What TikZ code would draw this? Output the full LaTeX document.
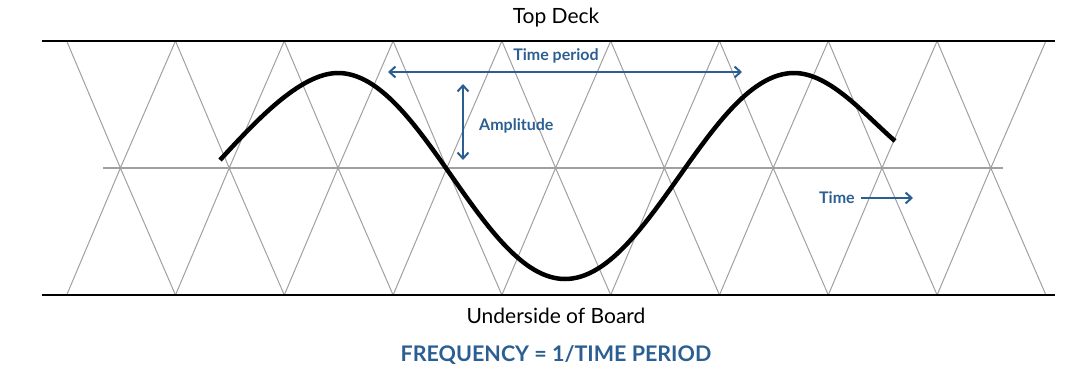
\documentclass[tikz,border=0pt]{standalone}
\usepackage{fontspec}
\setmainfont{Lato}
\usetikzlibrary{arrows.meta,positioning}
\definecolor{waveblue}{RGB}{44,95,145}
\definecolor{latgray}{RGB}{160,160,160}
\tikzset{
deck/.style={draw=black,line width=1.4pt},
lattice/.style={draw=latgray,line width=1pt},
wave/.style={draw=black,line width=4.5pt,line cap=butt},
caption/.style={font=\fontsize{21}{24}\selectfont,text=black,inner sep=0pt},
bluelabel/.style={font=\bfseries\fontsize{16}{18}\selectfont,text=waveblue,inner sep=0pt},
formula/.style={font=\bfseries\fontsize{21.5}{24}\selectfont,text=waveblue,inner sep=0pt},
measure/.style={{Straight Barb[length=6pt,width=11pt,line width=2pt]}-{Straight Barb[length=6pt,width=11pt,line width=2pt]},draw=waveblue,line width=2pt},
timeflow/.style={-{Straight Barb[length=6pt,width=11pt,line width=2pt]},draw=waveblue,line width=2pt}
}
\begin{document}
\begin{tikzpicture}[x=1pt,y=-1pt]
\useasboundingbox (0,0) rectangle (1069,370);
% deck lines
\coordinate (topL) at (42,41);\coordinate (topR) at (1055,41);
\coordinate (botL) at (42,295);\coordinate (botR) at (1055,295);
\coordinate (midL) at (103,168);\coordinate (midR) at (1003,168);
\draw[lattice,line width=1.4pt](midL)--(midR);
% triangle lattice
\foreach \k in {0,...,8}{
\coordinate (m\k) at ({120.4+108.8*\k},168);
\coordinate (t\k) at ({66.7+108.8*\k},41);
\coordinate (b\k) at ({66.7+108.8*\k},295);
\coordinate (tn\k) at ({175.5+108.8*\k},41);
\coordinate (bn\k) at ({175.5+108.8*\k},295);
\draw[lattice](t\k)--(m\k)--(tn\k);
\draw[lattice](b\k)--(m\k)--(bn\k);
}
\draw[deck](topL)--(topR);\draw[deck](botL)--(botR);
% the wave
\coordinate (w0) at (220,160);\coordinate (pk1) at (338,73);\coordinate (tr) at (565,279);
\coordinate (pk2) at (794,73);\coordinate (w1) at (895,141);
\draw[wave](w0) .. controls (255,122) and (300,73) .. (pk1)
 .. controls (420.6,73) and (482.4,279) .. (tr)
 .. controls (648.4,279) and (710.6,73) .. (pk2)
 .. controls (830,73) and (865,115) .. (w1);
% labels
\node[caption](top) at (556,18){Top Deck};
\node[caption](under) at (556,316){Underside of Board};
\node[formula](freq) at (556,355){FREQUENCY = 1/TIME PERIOD};
\coordinate (tpL) at (388,72);\coordinate (tpR) at (742,72);
\draw[measure](tpL)--(tpR);
\node[bluelabel](period) at (556,56){Time period};
\coordinate (ampT) at (463,84);\coordinate (ampB) at (463,160);
\draw[measure](ampT)--(ampB);
\node[bluelabel,anchor=west](amp) at (479,126){Amplitude};
\node[bluelabel,anchor=west](time) at (819,198){Time};
\coordinate (timeR) at (913,198);
\draw[timeflow]([xshift=6pt]time.east)--(timeR);
\end{tikzpicture}
\end{document}
